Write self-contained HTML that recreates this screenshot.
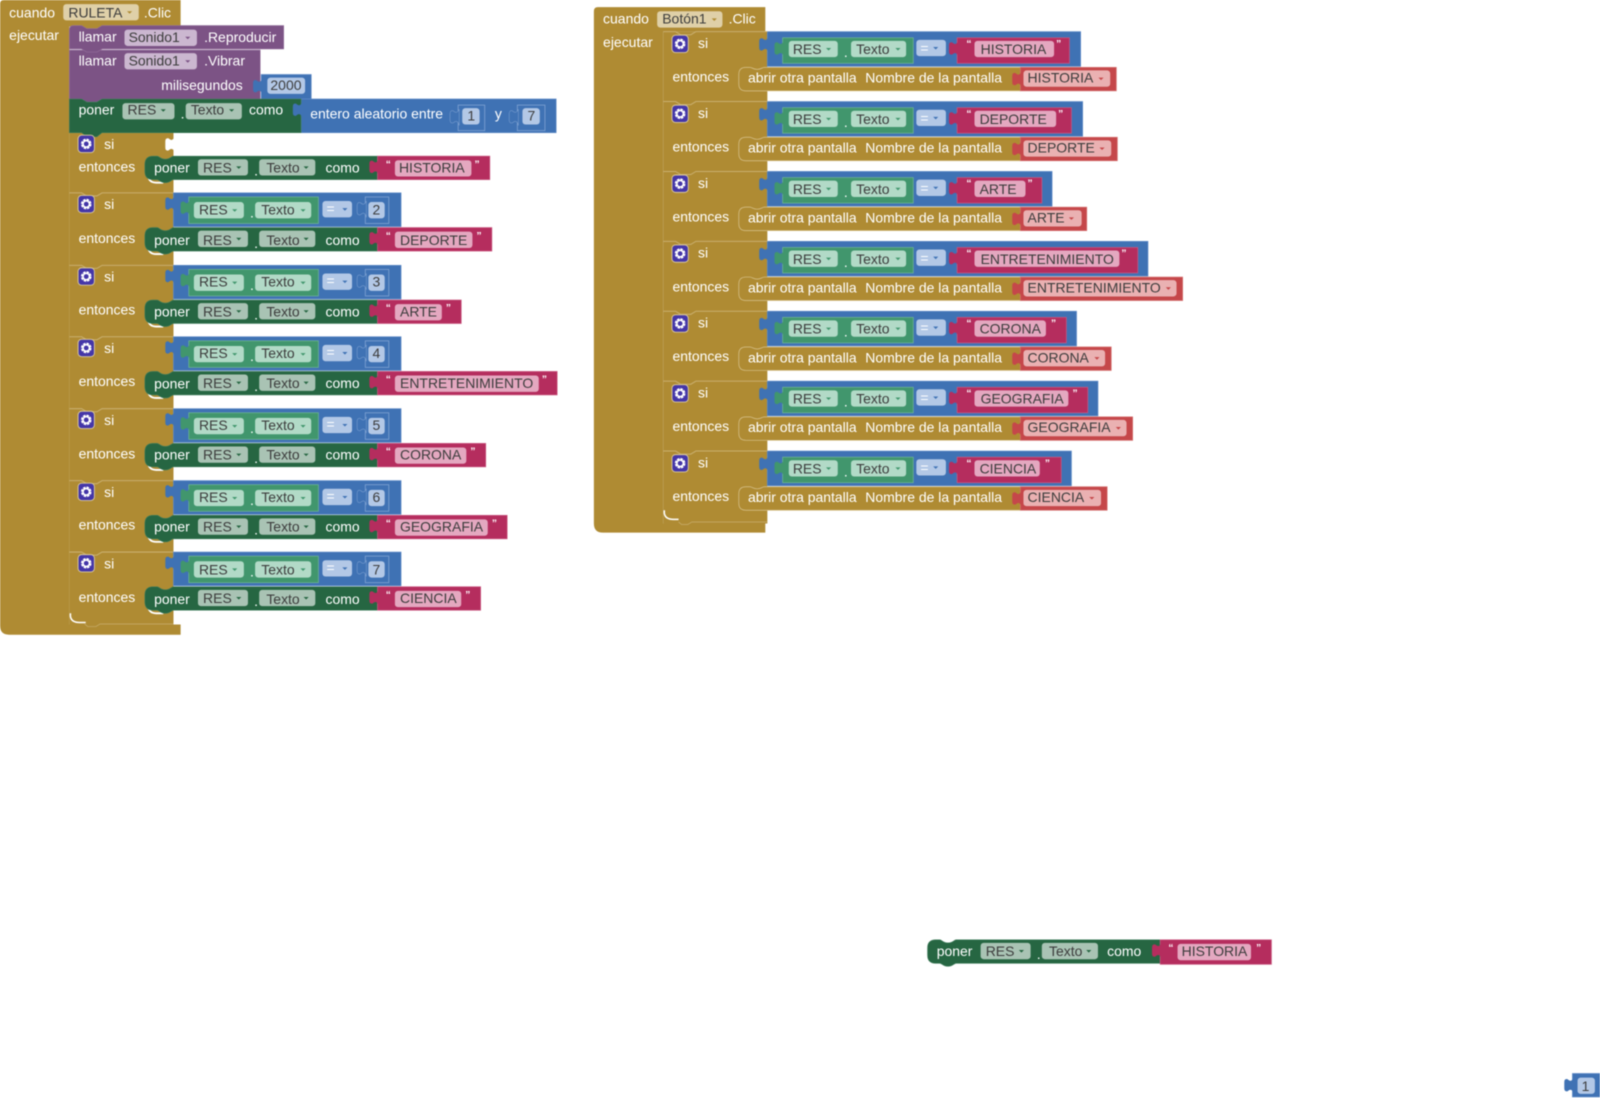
<!DOCTYPE html>
<html><head><meta charset="utf-8"><title>Bloques</title>
<style>
html,body{margin:0;padding:0;background:#fff;width:1600px;height:1098px;overflow:hidden}
svg{display:block;filter:blur(.4px)}
text{font-family:"Liberation Sans",Arial,sans-serif;font-size:13.7px;white-space:pre}
.w{fill:#fff}.d{fill:#3c3c3c}.q{font-size:10px;font-weight:bold;fill:#fff}
.g{fill:#AF8B33}.b{fill:#3F72B4;stroke:#5E8AC6;stroke-width:.7}.s{fill:#41966D;stroke:#6FB593;stroke-width:.7}
.p{fill:#266642;stroke:#3F7C5B;stroke-width:.6}.m{fill:#B52D5E;stroke:#C9577F;stroke-width:.7}.r{fill:#C5474A;stroke:#D4706F;stroke-width:.7}
.v{fill:#7C5385;stroke:#94709C;stroke-width:.6}
.fb{fill:#B3C8E6}.fs{fill:#B2DAC7}.fp{fill:#A9C3B4}.fm{fill:#E4A8C0}.fr{fill:#EAB1B2}.fg{fill:#DFD0A8}.fv{fill:#CBB7D0}
</style></head><body>
<svg xmlns="http://www.w3.org/2000/svg" width="1600" height="1098" viewBox="0 0 1568 1076">
<defs>
<path id="tab" d="M1,0 L0,2 C-2,4 -3,3 -5,1.500 Q-8,1 -8,4.500 V10.500 Q-8,14 -5,13.500 C-3,12 -2,11 0,13 L1,16Z"/>
<g id="gear"><rect x="-8" y="-8.500" width="16" height="17" rx="3.500" fill="#4436A8" stroke="#D9C99E" stroke-width=".9"/><circle r="3.800" fill="none" stroke="#fff" stroke-width="2.800" stroke-dasharray="2.200 .8"/><circle r="3.200" fill="none" stroke="#fff" stroke-width="1.500"/></g>
<g id="L">
<path d="M68,0 H80 L85,3 H95 L100,0 H170" fill="none" stroke="#C9AF6F" stroke-width="1"/>
<use href="#gear" x="84.500" y="11"/>
<rect class="b" x="170" y="0" width="223" height="33"/>
<use href="#tab" x="170" y="3" fill="#3F72B4"/>
<rect class="s" x="185" y="4" width="127" height="26"/>
<use href="#tab" x="185" y="7" fill="#41966D"/>
<rect class="fs" x="190" y="9" width="49" height="16" rx="3"/><path d="M227.500,16h5l-2.500,2.500z" fill="#41966D"/>
<rect class="fs" x="250" y="9" width="55" height="16" rx="3"/><path d="M294.500,16h5l-2.500,2.500z" fill="#41966D"/>
<rect class="fb" x="316" y="8" width="29" height="16" rx="3"/><path d="M335.500,15h5l-2.500,2.500z" fill="#3F72B4"/>
<rect x="358" y="4" width="23" height="26" fill="#3F72B4" stroke="#7FA2D2" stroke-width=".8"/>
<use href="#tab" x="358" y="8" fill="#3F72B4" stroke="#7FA2D2" stroke-width=".5"/>
<rect class="fb" x="361" y="9" width="16" height="16" rx="3"/>
<path d="M145,53 Q146,60 153,60 H160" fill="none" stroke="#fff" stroke-width="1.800"/>
<use href="#P" x="142" y="34"/>
</g>
<g id="P">
<path class="p" d="M8,0 H12 C14,0 15,3 20,3 C25,3 26,0 28,0 H228 V23 H28 C26,23 25,26 20,26 C15,26 14,23 12,23 H8 Q0,23 0,15 V8 Q0,0 8,0Z"/>
<rect class="fp" x="52" y="3" width="49" height="16" rx="3"/><path d="M89.500,10h5l-2.500,2.500z" fill="#266642"/>
<rect class="fp" x="112" y="3" width="55" height="16" rx="3"/><path d="M155.500,10h5l-2.500,2.500z" fill="#266642"/>
</g>
<g id="R">
<path d="M650,0 H662 L667,3 H677 L682,0 H752" fill="none" stroke="#C9AF6F" stroke-width="1"/>
<use href="#gear" x="666.500" y="12"/>
<use href="#tab" x="752" y="5" fill="#3F72B4"/>
<rect class="s" x="767" y="6" width="128" height="25"/>
<use href="#tab" x="767" y="9" fill="#41966D"/>
<rect class="fs" x="773" y="9" width="48" height="16" rx="3"/><path d="M809.500,16h5l-2.500,2.500z" fill="#41966D"/>
<rect class="fs" x="834" y="9" width="54" height="16" rx="3"/><path d="M877.500,16h5l-2.500,2.500z" fill="#41966D"/>
<rect class="fb" x="898" y="8" width="29" height="16" rx="3"/><path d="M914.500,15h5l-2.500,2.500z" fill="#3F72B4"/>
</g>
<g id="A">
<path d="M731,35 H1000 V58 H731 Q724,58 724,51 V42 Q724,35 731,35Z" fill="#AF8B33"/>
<path d="M1000,35 H749 C747,35 746,37 742,37 C738,37 737,35 735,35 H731 Q724,35 724,42 V51 Q724,58 731,58 H1000" fill="none" stroke="#D8C38E" stroke-width=".7"/>
</g>
</defs>

<!-- LEFT STACK -->
<path class="g" d="M4,0 H177 V26 H100 L95,29 H85 L80,26 H68 V612 H177 V622 H9 Q0,622 0,613 V4 Q0,0 4,0Z"/>
<rect class="g" x="68" y="130" width="102" height="483"/>
<path d="M69,601 V604 Q70,610 78,610 H84" fill="none" stroke="#fff" stroke-width="1.500"/>
<path d="M170,611.500 H98 L94,614 H86 L83,611.500" fill="none" stroke="#C9AF6F" stroke-width=".7"/>
<text class="w" x="9" y="17">cuando</text>
<rect class="fg" x="62" y="4" width="74" height="16" rx="3"/><text class="d" x="67" y="17">RULETA</text><path d="M124.500,11h5l-2.500,2.500z" fill="#AF8B33"/>
<text class="w" x="141" y="17">.Clic</text>
<text class="w" x="9" y="39">ejecutar</text>

<path class="v" d="M68,49 H255 V97 H100 L95,100 H85 L80,97 H68Z"/>
<path class="v" d="M72,25 H80 L85,28 H95 L100,25 H278 V48 H100 L95,51 H85 L80,48 H68 V29 Q68,25 72,25Z"/>
<text class="w" x="77" y="40.500">llamar</text>
<rect class="fv" x="122" y="29" width="71" height="16" rx="3"/><text class="d" x="126" y="41">Sonido1</text><path d="M181.500,36h5l-2.500,2.500z" fill="#7C5385"/>
<text class="w" x="200" y="41">.Reproducir</text>

<text class="w" x="77" y="64">llamar</text>
<rect class="fv" x="122" y="52" width="71" height="16" rx="3"/><text class="d" x="126" y="64">Sonido1</text><path d="M181.500,59h5l-2.500,2.500z" fill="#7C5385"/>
<text class="w" x="200" y="64">.Vibrar</text>
<text class="w" x="158" y="88">milisegundos</text>
<rect class="b" x="256" y="73" width="49" height="24"/><use href="#tab" x="256" y="77" fill="#3F72B4"/>
<rect class="fb" x="262" y="76" width="37" height="16" rx="3"/><text class="d" x="265" y="88">2000</text>

<rect class="b" x="295" y="97" width="250" height="33"/>
<path class="p" d="M68,97 H80 L85,100 H95 L100,97 H295 V130 H100 L95,134 H85 L80,130 H68Z"/>
<use href="#tab" x="295" y="100" fill="#3F72B4"/>
<text class="w" x="77" y="112">poner</text>
<rect class="fp" x="120" y="101" width="51" height="16" rx="3"/><text class="d" x="125" y="112">RES</text><path d="M157.500,107h5l-2.500,2.500z" fill="#266642"/>
<text class="w" x="177" y="116">.</text>
<rect class="fp" x="182" y="101" width="55" height="16" rx="3"/><text class="d" x="187" y="112">Texto</text><path d="M224.500,107h5l-2.500,2.500z" fill="#266642"/>
<text class="w" x="244" y="112">como</text>
<text class="w" x="304" y="116">entero aleatorio entre</text>
<rect x="449" y="103" width="26" height="25" fill="#3F72B4" stroke="#7FA2D2" stroke-width=".8"/><use href="#tab" x="449" y="107" fill="#3F72B4" stroke="#7FA2D2" stroke-width=".5"/>
<rect class="fb" x="453" y="106" width="17" height="16" rx="3"/><text class="d" x="458" y="118">1</text>
<text class="w" x="485" y="116">y</text>
<rect x="507" y="103" width="27" height="25" fill="#3F72B4" stroke="#7FA2D2" stroke-width=".8"/><use href="#tab" x="507" y="107" fill="#3F72B4" stroke="#7FA2D2" stroke-width=".5"/>
<rect class="fb" x="512" y="106" width="17" height="16" rx="3"/><text class="d" x="517" y="118">7</text>

<!-- row 1 -->
<use href="#tab" x="170" y="134" fill="#fff"/>
<use href="#gear" x="84.500" y="141"/>
<text class="w" x="102" y="146">si</text>
<text class="w" x="77" y="168">entonces</text>
<path d="M145,172 Q146,179 153,179 H160" fill="none" stroke="#fff" stroke-width="1.800"/>
<use href="#P" x="142" y="153"/>
<rect class="m" x="370" y="153" width="110" height="23"/><use href="#tab" x="370" y="156" fill="#B52D5E"/>
<text class="w" x="151" y="169">poner</text><text class="d" x="199" y="169">RES</text><text class="w" x="249" y="172">.</text><text class="d" x="261" y="169">Texto</text><text class="w" x="319" y="169">como</text>
<text class="q" x="378" y="164">“</text><rect class="fm" x="387" y="157" width="75" height="16" rx="3"/><text class="d" x="391" y="169">HISTORIA</text><text class="q" x="465" y="164">”</text>

<!-- rows 2-7 -->
<g transform="translate(0,189)"><use href="#L"/><text class="w" x="102" y="16">si</text><text class="d" x="195" y="21">RES</text><text class="w" x="245" y="24">.</text><text class="d" x="256" y="21">Texto</text><text class="w" x="320" y="20">=</text><text class="d" x="365" y="21">2</text><text class="w" x="77" y="49">entonces</text><text class="w" x="151" y="51">poner</text><text class="d" x="199" y="51">RES</text><text class="w" x="249" y="54">.</text><text class="d" x="261" y="51">Texto</text><text class="w" x="319" y="51">como</text>
<rect class="m" x="370" y="34" width="112" height="23"/><use href="#tab" x="370" y="37" fill="#B52D5E"/><text class="q" x="378" y="45">“</text><rect class="fm" x="387" y="38" width="76" height="16" rx="3"/><text class="d" x="392" y="51">DEPORTE</text><text class="q" x="467" y="45">”</text></g>

<g transform="translate(0,260)"><use href="#L"/><text class="w" x="102" y="16">si</text><text class="d" x="195" y="21">RES</text><text class="w" x="245" y="24">.</text><text class="d" x="256" y="21">Texto</text><text class="w" x="320" y="20">=</text><text class="d" x="365" y="21">3</text><text class="w" x="77" y="48">entonces</text><text class="w" x="151" y="50">poner</text><text class="d" x="199" y="50">RES</text><text class="w" x="249" y="53">.</text><text class="d" x="261" y="50">Texto</text><text class="w" x="319" y="50">como</text>
<rect class="m" x="370" y="34" width="82" height="23"/><use href="#tab" x="370" y="37" fill="#B52D5E"/><text class="q" x="378" y="45">“</text><rect class="fm" x="387" y="38" width="46" height="16" rx="3"/><text class="d" x="392" y="50">ARTE</text><text class="q" x="437" y="45">”</text></g>

<g transform="translate(0,330)"><use href="#L"/><text class="w" x="102" y="16">si</text><text class="d" x="195" y="21">RES</text><text class="w" x="245" y="24">.</text><text class="d" x="256" y="21">Texto</text><text class="w" x="320" y="20">=</text><text class="d" x="365" y="21">4</text><text class="w" x="77" y="48.500">entonces</text><text class="w" x="151" y="50.500">poner</text><text class="d" x="199" y="50">RES</text><text class="w" x="249" y="53">.</text><text class="d" x="261" y="50">Texto</text><text class="w" x="319" y="50">como</text>
<rect class="m" x="370" y="34" width="176" height="23"/><use href="#tab" x="370" y="37" fill="#B52D5E"/><text class="q" x="378" y="45">“</text><rect class="fm" x="387" y="38" width="141" height="16" rx="3"/><text class="d" x="392" y="50">ENTRETENIMIENTO</text><text class="q" x="531" y="45">”</text></g>

<g transform="translate(0,400.500)"><use href="#L"/><text class="w" x="102" y="16">si</text><text class="d" x="195" y="21">RES</text><text class="w" x="245" y="24">.</text><text class="d" x="256" y="21">Texto</text><text class="w" x="320" y="20">=</text><text class="d" x="365" y="21">5</text><text class="w" x="77" y="49">entonces</text><text class="w" x="151" y="50">poner</text><text class="d" x="199" y="50">RES</text><text class="w" x="249" y="53">.</text><text class="d" x="261" y="50">Texto</text><text class="w" x="319" y="50">como</text>
<rect class="m" x="370" y="34" width="106" height="23"/><use href="#tab" x="370" y="37" fill="#B52D5E"/><text class="q" x="378" y="45">“</text><rect class="fm" x="387" y="38" width="70" height="16" rx="3"/><text class="d" x="392" y="50">CORONA</text><text class="q" x="461" y="45">”</text></g>

<g transform="translate(0,471)"><use href="#L"/><text class="w" x="102" y="16">si</text><text class="d" x="195" y="21">RES</text><text class="w" x="245" y="24">.</text><text class="d" x="256" y="21">Texto</text><text class="w" x="320" y="20">=</text><text class="d" x="365" y="21">6</text><text class="w" x="77" y="48">entonces</text><text class="w" x="151" y="50">poner</text><text class="d" x="199" y="50">RES</text><text class="w" x="249" y="53">.</text><text class="d" x="261" y="50">Texto</text><text class="w" x="319" y="50">como</text>
<rect class="m" x="370" y="34" width="127" height="23"/><use href="#tab" x="370" y="37" fill="#B52D5E"/><text class="q" x="378" y="45">“</text><rect class="fm" x="387" y="38" width="91" height="16" rx="3"/><text class="d" x="392" y="50">GEOGRAFIA</text><text class="q" x="482" y="45">”</text></g>

<g transform="translate(0,541)"><use href="#L"/><text class="w" x="102" y="16">si</text><text class="d" x="195" y="22">RES</text><text class="w" x="245" y="24">.</text><text class="d" x="256" y="22">Texto</text><text class="w" x="320" y="20">=</text><text class="d" x="365" y="22">7</text><text class="w" x="77" y="49">entonces</text><text class="w" x="151" y="51">poner</text><text class="d" x="199" y="50">RES</text><text class="w" x="249" y="53">.</text><text class="d" x="261" y="51">Texto</text><text class="w" x="319" y="51">como</text>
<rect class="m" x="370" y="34" width="101" height="23"/><use href="#tab" x="370" y="37" fill="#B52D5E"/><text class="q" x="378" y="45">“</text><rect class="fm" x="387" y="38" width="65" height="16" rx="3"/><text class="d" x="392" y="50">CIENCIA</text><text class="q" x="456" y="45">”</text></g>

<!-- RIGHT STACK -->
<path class="g" d="M586,7 H750 V31 H650 V513 H750 V522 H591 Q582,522 582,513 V11 Q582,7 586,7Z"/>
<rect class="g" x="650" y="31" width="102" height="482"/>
<path d="M651,500 V503 Q652,509 660,509 H665" fill="none" stroke="#fff" stroke-width="1.500"/>
<path d="M752,511.500 H678 L674,514 H668 L665,511.500" fill="none" stroke="#C9AF6F" stroke-width=".7"/>
<text class="w" x="591" y="23">cuando</text>
<rect class="fg" x="644" y="11" width="64" height="16" rx="3"/><text class="d" x="649" y="23">Botón1</text><path d="M697.500,18h5l-2.500,2.500z" fill="#AF8B33"/>
<text class="w" x="714" y="23">.Clic</text>
<text class="w" x="591" y="46">ejecutar</text>

<g transform="translate(0,31)"><rect class="b" x="752" y="0" width="307" height="34"/><use href="#R"/><rect class="m" x="938" y="6" width="110" height="25"/><use href="#tab" x="938" y="9" fill="#B52D5E"/><use href="#A"/><rect class="r" x="1000" y="35" width="94" height="23"/><use href="#tab" x="1000" y="39" fill="#C5474A"/>
<text class="w" x="684" y="16">si</text><text class="d" x="777" y="22">RES</text><text class="w" x="827" y="25">.</text><text class="d" x="839" y="22">Texto</text><text class="w" x="902" y="21">=</text><text class="q" x="947" y="15">“</text><rect class="fm" x="955" y="9" width="78" height="16" rx="3"/><text class="d" x="961" y="22">HISTORIA</text><text class="q" x="1035" y="15">”</text>
<text class="w" x="659" y="49">entonces</text><text class="w" x="733" y="50">abrir otra pantalla</text><text class="w" x="848" y="50">Nombre de la pantalla</text><rect class="fr" x="1003" y="38" width="85" height="16" rx="3"/><text class="d" x="1007" y="50">HISTORIA</text><path d="M1076.500,45h5l-2.500,2.500z" fill="#C5474A"/></g>

<g transform="translate(0,99.500)"><rect class="b" x="752" y="0" width="309" height="34"/><use href="#R"/><rect class="m" x="938" y="6" width="112" height="25"/><use href="#tab" x="938" y="9" fill="#B52D5E"/><use href="#A"/><rect class="r" x="1000" y="35" width="95" height="23"/><use href="#tab" x="1000" y="39" fill="#C5474A"/>
<text class="w" x="684" y="16">si</text><text class="d" x="777" y="22">RES</text><text class="w" x="827" y="25">.</text><text class="d" x="839" y="22">Texto</text><text class="w" x="902" y="21">=</text><text class="q" x="947" y="15">“</text><rect class="fm" x="955" y="9" width="80" height="16" rx="3"/><text class="d" x="960" y="22">DEPORTE</text><text class="q" x="1037" y="15">”</text>
<text class="w" x="659" y="49">entonces</text><text class="w" x="733" y="50">abrir otra pantalla</text><text class="w" x="848" y="50">Nombre de la pantalla</text><rect class="fr" x="1003" y="38" width="86" height="16" rx="3"/><text class="d" x="1007" y="50">DEPORTE</text><path d="M1077.500,45h5l-2.500,2.500z" fill="#C5474A"/></g>

<g transform="translate(0,168)"><rect class="b" x="752" y="0" width="279" height="34"/><use href="#R"/><rect class="m" x="938" y="6" width="83" height="25"/><use href="#tab" x="938" y="9" fill="#B52D5E"/><use href="#A"/><rect class="r" x="1000" y="35" width="65" height="23"/><use href="#tab" x="1000" y="39" fill="#C5474A"/>
<text class="w" x="684" y="16">si</text><text class="d" x="777" y="22">RES</text><text class="w" x="827" y="25">.</text><text class="d" x="839" y="22">Texto</text><text class="w" x="902" y="21">=</text><text class="q" x="947" y="15">“</text><rect class="fm" x="955" y="9" width="50" height="16" rx="3"/><text class="d" x="960" y="22">ARTE</text><text class="q" x="1007" y="15">”</text>
<text class="w" x="659" y="49">entonces</text><text class="w" x="733" y="50">abrir otra pantalla</text><text class="w" x="848" y="50">Nombre de la pantalla</text><rect class="fr" x="1003" y="38" width="57" height="16" rx="3"/><text class="d" x="1007" y="50">ARTE</text><path d="M1047.500,45h5l-2.500,2.500z" fill="#C5474A"/></g>

<g transform="translate(0,236.500)"><rect class="b" x="752" y="0" width="373" height="34"/><use href="#R"/><rect class="m" x="938" y="6" width="177" height="25"/><use href="#tab" x="938" y="9" fill="#B52D5E"/><use href="#A"/><rect class="r" x="1000" y="35" width="159" height="23"/><use href="#tab" x="1000" y="39" fill="#C5474A"/>
<text class="w" x="684" y="16">si</text><text class="d" x="777" y="22">RES</text><text class="w" x="827" y="25">.</text><text class="d" x="839" y="22">Texto</text><text class="w" x="902" y="21">=</text><text class="q" x="947" y="15">“</text><rect class="fm" x="955" y="9" width="142" height="16" rx="3"/><text class="d" x="961" y="22">ENTRETENIMIENTO</text><text class="q" x="1099" y="15">”</text>
<text class="w" x="659" y="49">entonces</text><text class="w" x="733" y="50">abrir otra pantalla</text><text class="w" x="848" y="50">Nombre de la pantalla</text><rect class="fr" x="1003" y="38" width="150" height="16" rx="3"/><text class="d" x="1007" y="50">ENTRETENIMIENTO</text><path d="M1142.500,45h5l-2.500,2.500z" fill="#C5474A"/></g>

<g transform="translate(0,305)"><rect class="b" x="752" y="0" width="303" height="34"/><use href="#R"/><rect class="m" x="938" y="6" width="107" height="25"/><use href="#tab" x="938" y="9" fill="#B52D5E"/><use href="#A"/><rect class="r" x="1000" y="35" width="89" height="23"/><use href="#tab" x="1000" y="39" fill="#C5474A"/>
<text class="w" x="684" y="16">si</text><text class="d" x="777" y="22">RES</text><text class="w" x="827" y="25">.</text><text class="d" x="839" y="22">Texto</text><text class="w" x="902" y="21">=</text><text class="q" x="947" y="15">“</text><rect class="fm" x="955" y="9" width="70" height="16" rx="3"/><text class="d" x="960" y="22">CORONA</text><text class="q" x="1030" y="15">”</text>
<text class="w" x="659" y="49">entonces</text><text class="w" x="733" y="50">abrir otra pantalla</text><text class="w" x="848" y="50">Nombre de la pantalla</text><rect class="fr" x="1003" y="38" width="80" height="16" rx="3"/><text class="d" x="1007" y="50">CORONA</text><path d="M1072.500,45h5l-2.500,2.500z" fill="#C5474A"/></g>

<g transform="translate(0,373.500)"><rect class="b" x="752" y="0" width="324" height="34"/><use href="#R"/><rect class="m" x="938" y="6" width="128" height="25"/><use href="#tab" x="938" y="9" fill="#B52D5E"/><use href="#A"/><rect class="r" x="1000" y="35" width="110" height="23"/><use href="#tab" x="1000" y="39" fill="#C5474A"/>
<text class="w" x="684" y="16">si</text><text class="d" x="777" y="22">RES</text><text class="w" x="827" y="25">.</text><text class="d" x="839" y="22">Texto</text><text class="w" x="902" y="21">=</text><text class="q" x="947" y="15">“</text><rect class="fm" x="955" y="9" width="92" height="16" rx="3"/><text class="d" x="961" y="22">GEOGRAFIA</text><text class="q" x="1051" y="15">”</text>
<text class="w" x="659" y="49">entonces</text><text class="w" x="733" y="50">abrir otra pantalla</text><text class="w" x="848" y="50">Nombre de la pantalla</text><rect class="fr" x="1003" y="38" width="101" height="16" rx="3"/><text class="d" x="1007" y="50">GEOGRAFIA</text><path d="M1093.500,45h5l-2.500,2.500z" fill="#C5474A"/></g>

<g transform="translate(0,442)"><rect class="b" x="752" y="0" width="298" height="34"/><use href="#R"/><rect class="m" x="938" y="6" width="102" height="25"/><use href="#tab" x="938" y="9" fill="#B52D5E"/><use href="#A"/><rect class="r" x="1000" y="35" width="85" height="23"/><use href="#tab" x="1000" y="39" fill="#C5474A"/>
<text class="w" x="684" y="16">si</text><text class="d" x="777" y="22">RES</text><text class="w" x="827" y="25">.</text><text class="d" x="839" y="22">Texto</text><text class="w" x="902" y="21">=</text><text class="q" x="947" y="15">“</text><rect class="fm" x="955" y="9" width="64" height="16" rx="3"/><text class="d" x="960" y="22">CIENCIA</text><text class="q" x="1024" y="15">”</text>
<text class="w" x="659" y="49">entonces</text><text class="w" x="733" y="50">abrir otra pantalla</text><text class="w" x="848" y="50">Nombre de la pantalla</text><rect class="fr" x="1003" y="38" width="76" height="16" rx="3"/><text class="d" x="1007" y="50">CIENCIA</text><path d="M1067.500,45h5l-2.500,2.500z" fill="#C5474A"/></g>

<!-- floating poner -->
<g transform="translate(909,921)"><use href="#P"/>
<rect class="m" x="228" y="0" width="109" height="24"/><use href="#tab" x="228" y="3" fill="#B52D5E"/>
<text class="w" x="9" y="16">poner</text><text class="d" x="57" y="16">RES</text><text class="w" x="107" y="19">.</text><text class="d" x="119" y="16">Texto</text><text class="w" x="176" y="16">como</text>
<text class="q" x="236" y="11">“</text><rect class="fm" x="245" y="4" width="72" height="16" rx="3"/><text class="d" x="249" y="16">HISTORIA</text><text class="q" x="322" y="11">”</text></g>

<!-- floating 1 -->
<rect class="b" x="1541" y="1052" width="27" height="23"/><use href="#tab" x="1541" y="1056" fill="#3F72B4"/>
<rect class="fb" x="1546" y="1056" width="17" height="16" rx="3"/><text class="d" x="1550" y="1069">1</text>
</svg>
</body></html>
